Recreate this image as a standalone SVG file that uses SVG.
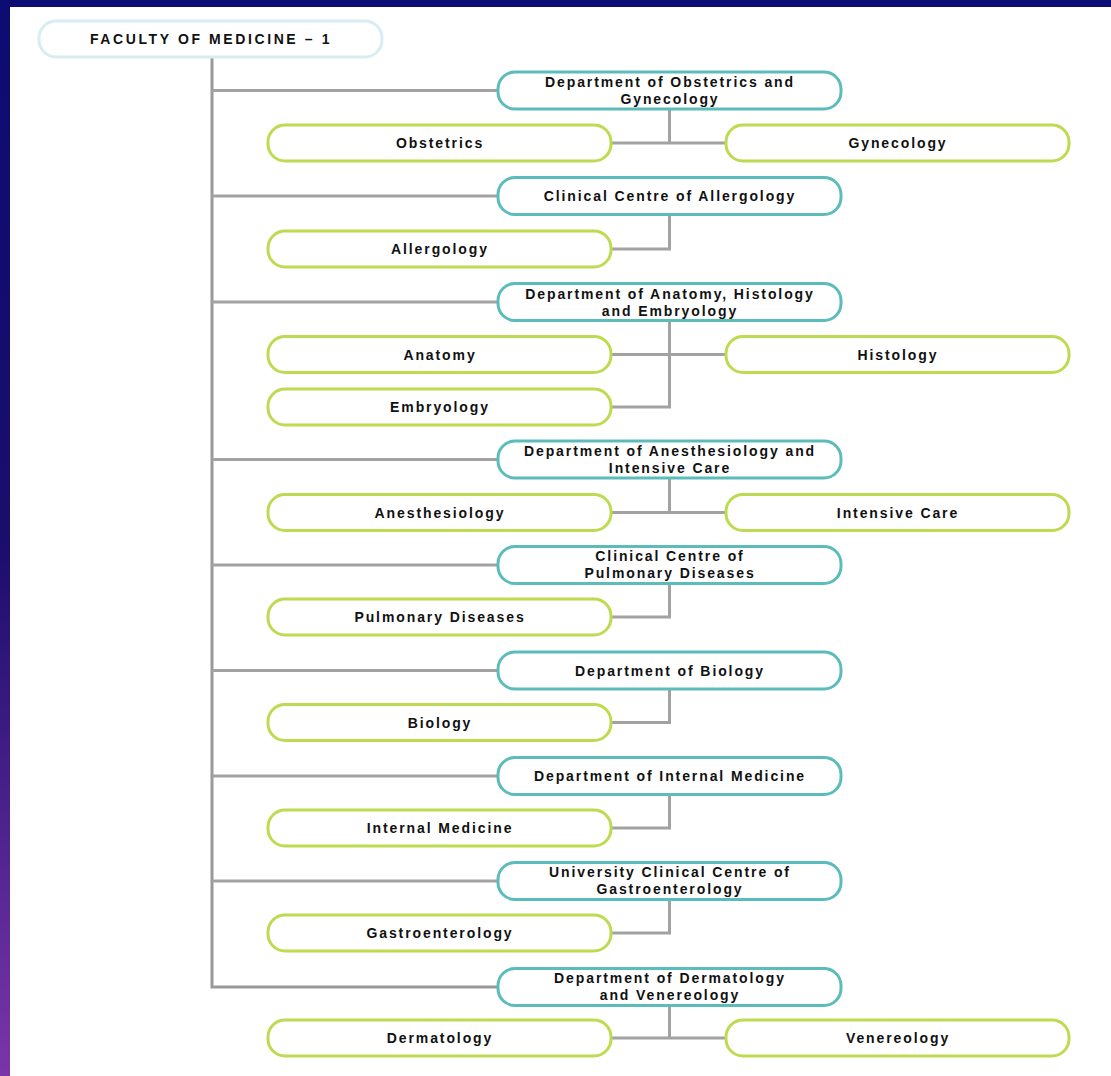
<svg xmlns="http://www.w3.org/2000/svg" width="1111" height="1076" viewBox="0 0 1111 1076">
<defs>
<linearGradient id="bg" x1="0" y1="0" x2="0" y2="1">
<stop offset="0" stop-color="#0c0c72"/>
<stop offset="0.5" stop-color="#1a0d6c"/>
<stop offset="1" stop-color="#7a35a8"/>
</linearGradient>
</defs>
<style>
.root{fill:#fff;stroke:#d6eef1;stroke-width:3}
.dept{fill:#fff;stroke:#5cbcbc;stroke-width:3}
.leaf{fill:#fff;stroke:#bcdb50;stroke-width:3}
.t{font-family:"Liberation Sans",Arial,sans-serif;font-weight:bold;font-size:14px;letter-spacing:1.9px;fill:#111;text-anchor:middle}
.rt{letter-spacing:2.6px}
.c{fill:none;stroke:#a2a2a2;stroke-width:3}
.trunk{fill:none;stroke:#999;stroke-width:3}
</style>
<rect width="1111" height="1076" fill="url(#bg)"/>
<rect x="10" y="7" width="1101" height="1069" fill="#fff"/>

<g id="connectors">
<path class="trunk" d="M212 57 V987 H498"/>
<path class="c" d="M212 90.5 H498 M212 196 H498 M212 302 H498 M212 459.5 H498 M212 565 H498 M212 670.5 H498 M212 776 H498 M212 881 H498"/>
<path class="c" d="M669.5 109 V143 M611 143 H726"/>
<path class="c" d="M669.5 214.5 V249 H611"/>
<path class="c" d="M669.5 320.5 V407 H611 M611 354.5 H726"/>
<path class="c" d="M669.5 478 V512.5 M611 512.5 H726"/>
<path class="c" d="M669.5 583.5 V617 H611"/>
<path class="c" d="M669.5 689 V722.5 H611"/>
<path class="c" d="M669.5 794.5 V828 H611"/>
<path class="c" d="M669.5 899.5 V933 H611"/>
<path class="c" d="M669.5 1005.5 V1038 M611 1038 H726"/>
</g>

<g id="root"><rect class="root" x="39" y="21" width="343" height="36" rx="17"/><text class="t rt" x="211" y="44">FACULTY OF MEDICINE – 1</text></g>

<g id="d1"><rect class="dept" x="498" y="72" width="343" height="37" rx="17"/><text class="t" x="670" y="86.5">Department of Obstetrics and</text><text class="t" x="670" y="103.5">Gynecology</text></g>
<g id="l1a"><rect class="leaf" x="268" y="125" width="343" height="36" rx="17"/><text class="t" x="440" y="148">Obstetrics</text></g>
<g id="l1b"><rect class="leaf" x="726" y="125" width="343" height="36" rx="17"/><text class="t" x="898" y="148">Gynecology</text></g>

<g id="d2"><rect class="dept" x="498" y="177.5" width="343" height="37" rx="17"/><text class="t" x="670" y="201">Clinical Centre of Allergology</text></g>
<g id="l2"><rect class="leaf" x="268" y="231" width="343" height="36" rx="17"/><text class="t" x="440" y="254">Allergology</text></g>

<g id="d3"><rect class="dept" x="498" y="283.5" width="343" height="37" rx="17"/><text class="t" x="670" y="298.5">Department of Anatomy, Histology</text><text class="t" x="670" y="315.5">and Embryology</text></g>
<g id="l3a"><rect class="leaf" x="268" y="336.5" width="343" height="36" rx="17"/><text class="t" x="440" y="359.5">Anatomy</text></g>
<g id="l3b"><rect class="leaf" x="726" y="336.5" width="343" height="36" rx="17"/><text class="t" x="898" y="359.5">Histology</text></g>
<g id="l3c"><rect class="leaf" x="268" y="389" width="343" height="36" rx="17"/><text class="t" x="440" y="412">Embryology</text></g>

<g id="d4"><rect class="dept" x="498" y="441" width="343" height="37" rx="17"/><text class="t" x="670" y="455.5">Department of Anesthesiology and</text><text class="t" x="670" y="472.5">Intensive Care</text></g>
<g id="l4a"><rect class="leaf" x="268" y="494.5" width="343" height="36" rx="17"/><text class="t" x="440" y="517.5">Anesthesiology</text></g>
<g id="l4b"><rect class="leaf" x="726" y="494.5" width="343" height="36" rx="17"/><text class="t" x="898" y="517.5">Intensive Care</text></g>

<g id="d5"><rect class="dept" x="498" y="546.5" width="343" height="37" rx="17"/><text class="t" x="670" y="561">Clinical Centre of</text><text class="t" x="670" y="578">Pulmonary Diseases</text></g>
<g id="l5"><rect class="leaf" x="268" y="599" width="343" height="36" rx="17"/><text class="t" x="440" y="622">Pulmonary Diseases</text></g>

<g id="d6"><rect class="dept" x="498" y="652" width="343" height="37" rx="17"/><text class="t" x="670" y="675.5">Department of Biology</text></g>
<g id="l6"><rect class="leaf" x="268" y="704.5" width="343" height="36" rx="17"/><text class="t" x="440" y="727.5">Biology</text></g>

<g id="d7"><rect class="dept" x="498" y="757.5" width="343" height="37" rx="17"/><text class="t" x="670" y="781">Department of Internal Medicine</text></g>
<g id="l7"><rect class="leaf" x="268" y="810" width="343" height="36" rx="17"/><text class="t" x="440" y="833">Internal Medicine</text></g>

<g id="d8"><rect class="dept" x="498" y="862.5" width="343" height="37" rx="17"/><text class="t" x="670" y="876.5">University Clinical Centre of</text><text class="t" x="670" y="893.5">Gastroenterology</text></g>
<g id="l8"><rect class="leaf" x="268" y="915" width="343" height="36" rx="17"/><text class="t" x="440" y="938">Gastroenterology</text></g>

<g id="d9"><rect class="dept" x="498" y="968.5" width="343" height="37" rx="17"/><text class="t" x="670" y="982.5">Department of Dermatology</text><text class="t" x="670" y="999.5">and Venereology</text></g>
<g id="l9a"><rect class="leaf" x="268" y="1020" width="343" height="36" rx="17"/><text class="t" x="440" y="1043">Dermatology</text></g>
<g id="l9b"><rect class="leaf" x="726" y="1020" width="343" height="36" rx="17"/><text class="t" x="898" y="1043">Venereology</text></g>
</svg>
